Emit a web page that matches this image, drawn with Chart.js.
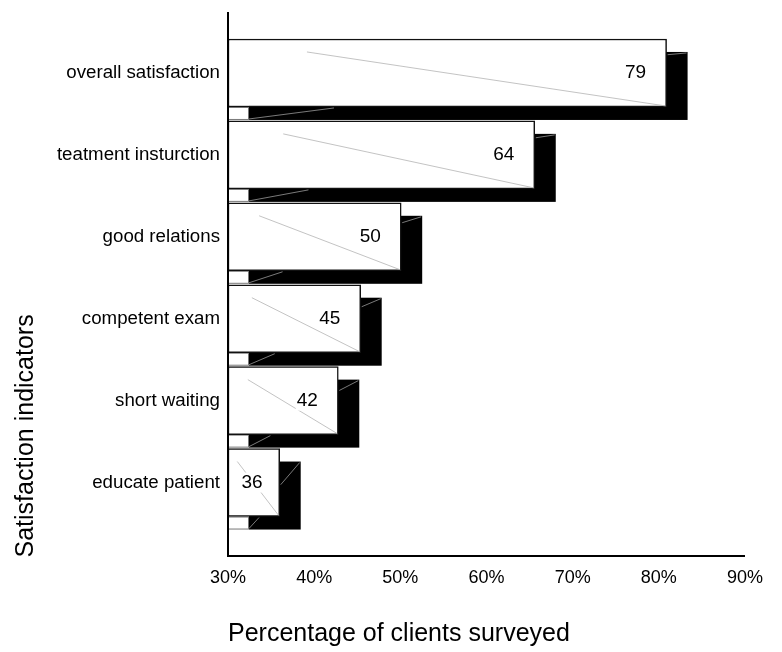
<!DOCTYPE html>
<html>
<head>
<meta charset="utf-8">
<script src="https://cdn.jsdelivr.net/npm/chart.js@4.4.0/dist/chart.umd.min.js"></script>
<style>
  body { margin: 0; background: #fff; }
  #wrap { width: 782px; height: 652px; }
</style>
</head>
<body>
<div id="wrap"><canvas id="chart" width="782" height="652"></canvas></div>
<script>
// data
const categories = ['overall satisfaction', 'teatment insturction', 'good relations',
  'competent exam', 'short waiting', 'educate patient'];
const valueLabels = [79, 64, 50, 45, 42, 36];          // printed on the bars
const barEnds = [80.9, 65.6, 50.1, 45.4, 42.8, 36.0];  // where the front faces end
const xMin = 30, xMax = 90, xStep = 10;

const FONT = 'Arial, "Liberation Sans", sans-serif';
const DX = 21, DY = 13;  // depth of the fake 3D shadow

const bar3d = {
  id: 'bar3d',
  beforeDatasetsDraw(chart) {
    const ctx = chart.ctx;
    ctx.save();
    chart.getDatasetMeta(0).data.forEach(bar => {
      const { x, y, base, height } = bar.getProps(['x', 'y', 'base', 'height'], true);
      const top = y - height / 2, bottom = y + height / 2;
      // black back face
      ctx.fillStyle = '#000';
      ctx.fillRect(base + DX, top + DY, x - base, height);
      // little white floor box under the bar
      ctx.fillStyle = '#fff';
      ctx.fillRect(base, bottom, DX, DY);
      ctx.strokeStyle = '#777';
      ctx.lineWidth = 1;
      ctx.strokeRect(base + 0.5, bottom + 0.5, DX - 1, DY - 1);
    });
    ctx.restore();
  },
  afterDatasetsDraw(chart) {
    const ctx = chart.ctx;
    const area = chart.chartArea;
    ctx.save();
    chart.getDatasetMeta(0).data.forEach((bar, i) => {
      const { x, y, base, height } = bar.getProps(['x', 'y', 'base', 'height'], true);
      const top = y - height / 2, bottom = y + height / 2;
      const w = x - base;
      const x0 = base + 0.18 * w;
      const slope = (height - DY) / (x - x0);

      ctx.lineWidth = 0.8;
      // diagonal across the front face
      ctx.strokeStyle = '#b4b4b4';
      ctx.beginPath();
      ctx.moveTo(x0, top + DY);
      ctx.lineTo(x - 1, bottom - 1);
      ctx.stroke();
      // edges seen on the black face
      ctx.strokeStyle = '#999';
      ctx.beginPath();
      ctx.moveTo(x + 1, top + DY + Math.min(DX * slope * 0.85, height - 2));
      ctx.lineTo(x + DX - 1, top + DY + 1);
      ctx.moveTo(base + DX, bottom + DY - 1);
      ctx.lineTo(base + DX + DY / slope, bottom + 1);
      ctx.stroke();

      // value label with a white box behind it
      ctx.font = '19px ' + FONT;
      ctx.textAlign = 'center';
      ctx.textBaseline = 'middle';
      const txt = String(valueLabels[i]);
      const tw = ctx.measureText(txt).width;
      const lx = Math.max(x - 31, base + 24);
      ctx.fillStyle = '#fff';
      ctx.fillRect(lx - tw / 2 - 1, y - 10, tw + 2, 20);
      ctx.fillStyle = '#000';
      ctx.fillText(txt, lx, y);
    });

    // axis lines
    ctx.strokeStyle = '#000';
    ctx.lineWidth = 2;
    ctx.beginPath();
    ctx.moveTo(area.left, area.top - 20);
    ctx.lineTo(area.left, area.bottom + 32.5);
    ctx.lineTo(area.right, area.bottom + 32.5);
    ctx.stroke();
    ctx.restore();
  },
  afterDraw(chart) {
    // vertical axis title, placed low like the original
    const ctx = chart.ctx;
    ctx.save();
    ctx.translate(33, chart.chartArea.bottom + 34);
    ctx.rotate(-Math.PI / 2);
    ctx.font = '25px ' + FONT;
    ctx.fillStyle = '#000';
    ctx.textAlign = 'left';
    ctx.textBaseline = 'alphabetic';
    ctx.fillText('Satisfaction indicators', 0, 0);
    ctx.restore();
  }
};

new Chart(document.getElementById('chart'), {
  type: 'bar',
  data: {
    labels: categories,
    datasets: [{
      data: barEnds,
      base: xMin,
      backgroundColor: '#fff',
      borderColor: '#111',
      borderWidth: 1.5,
      borderSkipped: false,
      barThickness: 68
    }]
  },
  options: {
    indexAxis: 'y',
    responsive: false,
    animation: false,
    devicePixelRatio: 1,
    layout: { padding: { left: 0, right: 37, top: 32, bottom: 0 } },
    plugins: { legend: { display: false }, tooltip: { enabled: false } },
    scales: {
      x: {
        min: xMin,
        max: xMax,
        grid: { display: false, drawTicks: false },
        border: { display: false },
        ticks: {
          stepSize: xStep,
          padding: 44,
          color: '#000',
          font: { family: FONT, size: 18 },
          callback: v => v + '%'
        },
        title: {
          display: true,
          text: 'Percentage of clients surveyed',
          align: 'start',
          color: '#000',
          font: { family: FONT, size: 25 },
          padding: { top: 0, bottom: 3 }
        },
        afterFit: s => { s.height = 128.5; s.paddingLeft = 0; s.paddingRight = 0; }
      },
      y: {
        grid: { display: false, drawTicks: false },
        border: { display: false },
        ticks: {
          padding: 8,
          color: '#000',
          font: { family: FONT, size: 18.7 }
        },
        afterFit: s => { s.width = 228; s.paddingTop = 0; s.paddingBottom = 0; }
      }
    }
  },
  plugins: [bar3d]
});
</script>
</body>
</html>
